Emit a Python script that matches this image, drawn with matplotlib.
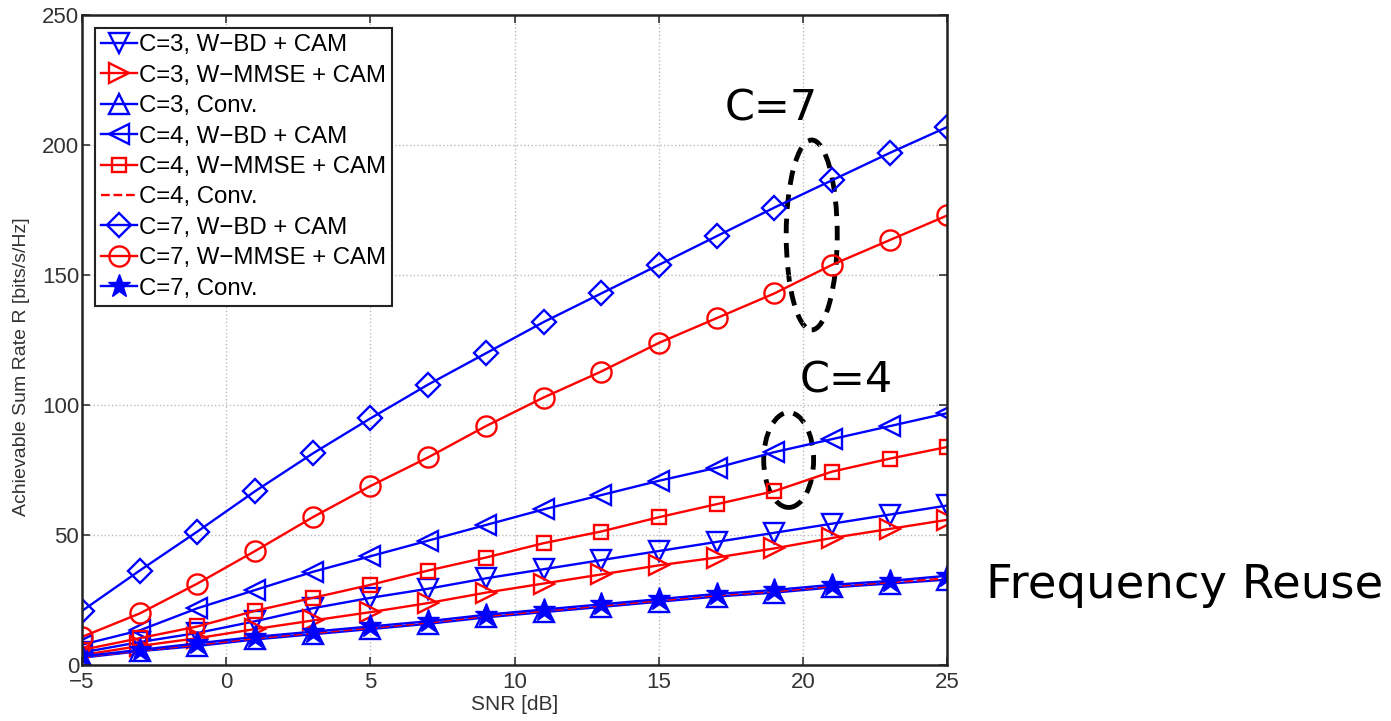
import matplotlib.pyplot as plt
from matplotlib.patches import Ellipse

# SNR points (dB)
snr = [-5, -3, -1, 1, 3, 5, 7, 9, 11, 13, 15, 17, 19, 21, 23, 25]

# Achievable sum rate per scheme (bits/s/Hz)
c3_wbd = [5, 9, 12.5, 17, 22, 26, 29.5, 33.5, 37, 40.5, 44, 47.5, 51, 54.5, 58, 61.5]
c3_wmmse = [4, 7.5, 10.5, 14, 17.3, 20.5, 24, 28, 31.5, 35, 38.5, 41.5, 45, 49, 52.5, 56]
c3_conv = [3, 5.5, 7.5, 10, 12, 14, 16, 18.5, 20.5, 22.5, 24.5, 26.5, 28, 30, 31.5, 33]
c4_wbd = [8, 13.5, 22, 29, 36, 42, 48, 54, 60, 65.5, 71, 76, 82, 87, 92, 97]
c4_wmmse = [6, 10.5, 15, 21, 26, 31, 36.5, 41.5, 47, 51.5, 57, 62, 67, 74.5, 79.5, 84]
c4_conv = [3.3, 5.8, 8, 10.5, 12.5, 14.5, 16.5, 19, 21, 23, 25, 27, 28.5, 30.5, 32, 33.5]
c7_wbd = [21, 36.5, 51.5, 67, 81.5, 95, 108, 120, 132, 143, 154, 165, 176, 186.5, 197, 207]
c7_wmmse = [11, 20, 31.5, 44, 57, 69, 80, 92, 103, 113, 124, 133.5, 143, 154, 163.5, 173]
c7_conv = [3.5, 6, 8.5, 11, 13, 15, 17, 19.5, 21.5, 23.5, 25.5, 27.5, 29, 31, 32.5, 34.5]

plt.rcParams['font.family'] = ['Liberation Sans', 'DejaVu Sans']

fig = plt.figure(figsize=(13.91, 7.21), dpi=100)
ax = fig.add_axes([0.059, 0.077, 0.622, 0.902])

lw = 1.7
mk = dict(mfc='none', mew=1.7, lw=lw)
ax.plot(snr, c3_wbd, 'b-', marker='v', ms=14, label='C=3, W\u2212BD + CAM', **mk)
ax.plot(snr, c3_wmmse, 'r-', marker='>', ms=14, label='C=3, W\u2212MMSE + CAM', **mk)
ax.plot(snr, c3_conv, 'b-', marker='^', ms=14, label='C=3, Conv.', **mk)
ax.plot(snr, c4_wbd, 'b-', marker='<', ms=14, label='C=4, W\u2212BD + CAM', **mk)
ax.plot(snr, c4_wmmse, 'r-', marker='s', ms=10.5, label='C=4, W\u2212MMSE + CAM', **mk)
ax.plot(snr, c4_conv, 'r--', lw=lw, label='C=4, Conv.')
ax.plot(snr, c7_wbd, 'b-', marker='D', ms=12, label='C=7, W\u2212BD + CAM', **mk)
ax.plot(snr, c7_wmmse, 'r-', marker='o', ms=14.5, label='C=7, W\u2212MMSE + CAM', **mk)
ax.plot(snr, c7_conv, 'b-', marker='*', ms=17, lw=lw, label='C=7, Conv.')

ax.set_xlim(-5, 25)
ax.set_ylim(0, 250)
ax.set_xticks([-5, 0, 5, 10, 15, 20, 25])
ax.set_yticks([0, 50, 100, 150, 200, 250])
ax.tick_params(direction='in', length=6, width=1.2, labelsize=16, colors='#333333',
               top=True, right=True)
ax.tick_params(axis='y', pad=2)
ax.tick_params(axis='x', pad=5)
for s in ax.spines.values():
    s.set_linewidth(1.8)
    s.set_color('#222222')
ax.grid(True, linestyle=':', color='#bbbbbb', linewidth=1)
ax.set_xlabel('SNR [dB]', fontsize=15, color='#333333', labelpad=1)
ax.set_ylabel('Achievable Sum Rate R [bits/s/Hz]', fontsize=14, color='#333333')
ax.yaxis.set_label_coords(-0.06, 0.46)

leg = ax.legend(loc='upper left', fontsize=17.3, handlelength=1.5, handletextpad=0.05,
                labelspacing=0.35, borderpad=0.25, borderaxespad=0.55, fancybox=False,
                framealpha=1, edgecolor='#222222')
leg.get_frame().set_linewidth(1.5)

# dashed ellipses marking the C=7 and C=4 groups
ax.add_patch(Ellipse((20.3, 165.5), 1.77, 73, fill=False, ls=(0, (3, 2)), lw=3.5, color='black'))
ax.add_patch(Ellipse((19.5, 79), 1.73, 36.5, fill=False, ls=(0, (3, 2)), lw=3.5, color='black'))

ax.text(18.9, 209.5, 'C=7', fontsize=31, family='DejaVu Sans', ha='center', va='baseline')
ax.text(21.5, 105, 'C=4', fontsize=31, family='DejaVu Sans', ha='center', va='baseline')
fig.text(0.709, 0.171, 'Frequency Reuse', fontsize=33.5, family='DejaVu Sans', ha='left', va='baseline')

fig.savefig('out.png', dpi=100)
